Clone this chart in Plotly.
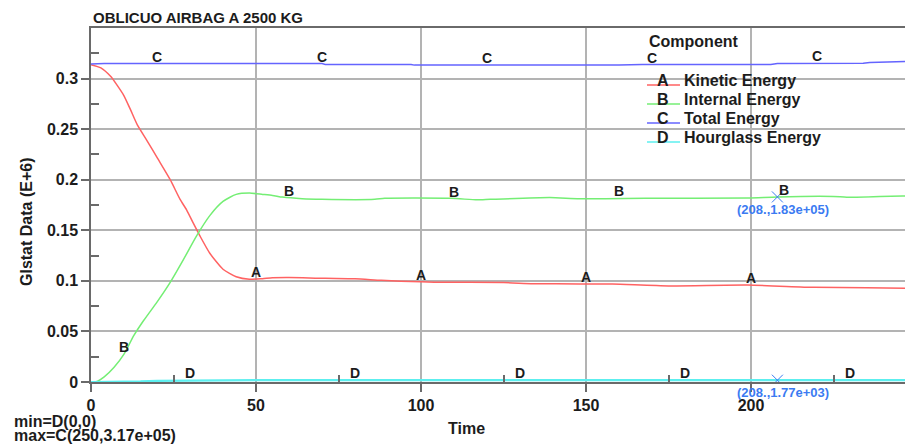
import numpy as np
import plotly.graph_objects as go

# ---- Glstat energies (E+6) versus time -------------------------------------
components = ["A", "B", "C", "D"]
names = ["Kinetic Energy", "Internal Energy", "Total Energy", "Hourglass Energy"]
colors = ["#ff6262", "#74ee74", "#6464ff", "#5cefef"]

t_kinetic = [0, 3, 6, 8, 10, 12, 14, 17, 20, 24, 27, 29, 31, 33, 36, 40, 44, 48,
             52, 55, 60, 68, 80, 88, 100, 104, 125, 134, 148, 158, 175, 199, 219,
             235, 250]
kinetic = [0.3138, 0.3106, 0.3020, 0.2930, 0.2830, 0.2690, 0.2545, 0.2385, 0.2220,
           0.2000, 0.1805, 0.1700, 0.1570, 0.1445, 0.1273, 0.1115, 0.1040, 0.1015,
           0.1022, 0.1030, 0.1032, 0.1027, 0.1020, 0.1005, 0.0990, 0.0987, 0.0983,
           0.0972, 0.0970, 0.0968, 0.0950, 0.0958, 0.0936, 0.0932, 0.0925]

t_internal = [0, 1, 2, 4, 7, 10, 13, 16, 20, 24, 28, 32, 36, 40, 44, 48, 52, 55,
              58, 64, 70, 86, 89, 109, 117, 121, 139, 148, 168, 199, 208, 225, 229,
              239, 246, 250]
internal = [0, 0, 0.0008, 0.0050, 0.0145, 0.0275, 0.0460, 0.0610, 0.0790, 0.0985,
            0.1210, 0.1445, 0.1645, 0.1785, 0.1855, 0.1868, 0.1855, 0.1845, 0.1828,
            0.1812, 0.1806, 0.1806, 0.1816, 0.1816, 0.1801, 0.1806, 0.1823, 0.1812,
            0.1816, 0.1820, 0.1830, 0.1834, 0.1827, 0.1834, 0.1840, 0.1840]

t_total = [0, 4, 70, 71, 97, 98, 160, 167, 206, 208, 234, 236, 250]
total = [0.3145, 0.3148, 0.3148, 0.3140, 0.3140, 0.3133, 0.3133, 0.3138, 0.3140,
         0.3150, 0.3152, 0.3160, 0.3170]

t_hourglass = [0, 8, 15, 20, 30, 50, 100, 150, 208, 250]
hourglass = [0, 0.0001, 0.0006, 0.0012, 0.0016, 0.0018, 0.0018, 0.0018, 0.00177, 0.0018]

series_t = [t_kinetic, t_internal, t_total, t_hourglass]
series_v = [kinetic, internal, total, hourglass]
series_shape = ["spline", "spline", "linear", "linear"]
series_width = [1.5, 1.5, 1.5, 2.2]

# curve letters are repeated along each line at these times
label_times = [[50, 100, 150, 200],
               [10, 60, 110, 160, 210],
               [20, 70, 120, 170, 220],
               [30, 80, 130, 180, 230]]

# probed points shown with their coordinates
probe_time = 208
probe_series = [1, 3]

x_ticks = [0, 50, 100, 150, 200]
x_minor = [25, 75, 125, 175, 225]
y_ticks = [0, 0.05, 0.1, 0.15, 0.2, 0.25, 0.3]
y_tick_text = ["0", "0.05", "0.1", "0.15", "0.2", "0.25", "0.3"]
y_minor = [0.025, 0.075, 0.125, 0.175, 0.225, 0.275, 0.325]

title_text = "OBLICUO AIRBAG A 2500 KG"
x_title = "Time"
y_title = "Glstat Data (E+6)"

# ---- page geometry (pixels) -------------------------------------------------
W, H = 905, 445
PL, PR, PT, PB = 91, 905, 28, 382
FONT = "Liberation Sans, Arial, sans-serif"
INK = "#1c1c1c"
AXIS = "#6a6a6a"
GRID = "#b3b3b3"
PROBE = "#3b7bf2"


def px(x):
    return (x - PL) / (PR - PL)


def py(y):
    return (PB - y) / (PB - PT)


fig = go.Figure()

for k in range(4):
    fig.add_trace(go.Scatter(
        x=series_t[k], y=series_v[k], mode="lines", name=names[k],
        line=dict(color=colors[k], width=series_width[k],
                  shape=series_shape[k], smoothing=0.6),
        showlegend=False, hoverinfo="skip"))

annotations = []
shapes = []

# letters along the curves
for k in range(4):
    for t in label_times[k]:
        v = float(np.interp(t, series_t[k], series_v[k]))
        annotations.append(dict(
            x=t, y=v, xref="x", yref="y", text=components[k], showarrow=False,
            yanchor="middle", yshift=7,
            font=dict(family=FONT, size=14, color=INK, weight="bold")))

# probed values
for k in probe_series:
    v = float(np.interp(probe_time, series_t[k], series_v[k]))
    fig.add_trace(go.Scatter(
        x=[probe_time], y=[v], mode="markers", showlegend=False,
        hoverinfo="skip",
        marker=dict(symbol="x-thin-open", size=11, color=PROBE,
                    line=dict(color=PROBE, width=1))))
    annotations.append(dict(
        x=probe_time, y=v, xref="x", yref="y",
        text=f"({probe_time}.,{v * 1e6:.2e})", showarrow=False,
        xanchor="center", yanchor="top", xshift=6, yshift=-3,
        font=dict(family=FONT, size=13, color=PROBE, weight="bold")))

# legend block
annotations.append(dict(
    x=px(647), y=py(42), xref="paper", yref="paper", text="Component",
    showarrow=False, xanchor="left", yanchor="middle",
    font=dict(family=FONT, size=16, color=INK, weight="bold")))
for k in range(4):
    yc = 80 + 19 * k
    shapes.append(dict(type="line", xref="paper", yref="paper",
                       x0=px(647), x1=px(680), y0=py(yc + 5), y1=py(yc + 5),
                       line=dict(color=colors[k], width=1.5)))
    annotations.append(dict(
        x=px(663), y=py(yc), xref="paper", yref="paper", text=components[k],
        showarrow=False, xanchor="center", yanchor="middle",
        font=dict(family=FONT, size=16, color=INK, weight="bold")))
    annotations.append(dict(
        x=px(682), y=py(yc), xref="paper", yref="paper", text=names[k],
        showarrow=False, xanchor="left", yanchor="middle",
        font=dict(family=FONT, size=16, color=INK, weight="bold")))

# extrema summary (ties go to the later component)
all_pts = [(series_v[k][i], k, series_t[k][i])
           for k in range(4) for i in range(len(series_t[k]))]
vmin, kmin, tmin = min(all_pts, key=lambda p: (p[0], -p[1]))
vmax, kmax, tmax = max(all_pts, key=lambda p: (p[0], p[1]))


def fmt(v):
    return "0" if v == 0 else f"{v * 1e6:.2e}"


annotations.append(dict(
    x=px(12), y=py(421), xref="paper", yref="paper",
    text=f"min={components[kmin]}({tmin:g},{fmt(vmin)})", showarrow=False,
    xanchor="left", yanchor="middle",
    font=dict(family=FONT, size=16, color=INK, weight="bold")))
annotations.append(dict(
    x=px(12), y=py(435.5), xref="paper", yref="paper",
    text=f"max={components[kmax]}({tmax:g},{fmt(vmax)})", showarrow=False,
    xanchor="left", yanchor="middle",
    font=dict(family=FONT, size=16, color=INK, weight="bold")))

# title and axis titles
annotations.append(dict(
    x=px(91), y=py(17), xref="paper", yref="paper", text=title_text,
    showarrow=False, xanchor="left", yanchor="middle",
    font=dict(family=FONT, size=15, color=INK, weight="bold")))
annotations.append(dict(
    x=px(466), y=py(428), xref="paper", yref="paper", text=x_title,
    showarrow=False, xanchor="center", yanchor="middle",
    font=dict(family=FONT, size=16, color=INK, weight="bold")))
annotations.append(dict(
    x=px(27), y=py(222), xref="paper", yref="paper", text=y_title,
    showarrow=False, xanchor="center", yanchor="middle", textangle=-90,
    font=dict(family=FONT, size=16, color=INK, weight="bold")))

x_max = (PR - PL) / 3.3

fig.update_layout(
    width=W, height=H,
    margin=dict(l=PL, r=W - PR, t=PT, b=H - PB, pad=0),
    paper_bgcolor="white", plot_bgcolor="white",
    annotations=annotations, shapes=shapes,
    xaxis=dict(
        range=[0, x_max], tickmode="array", tickvals=x_ticks,
        ticks="outside", ticklen=8, tickwidth=1.5, tickcolor=AXIS,
        showline=True, linecolor=AXIS, linewidth=1.5, mirror=True,
        showgrid=True, gridcolor=GRID, gridwidth=1.5, zeroline=False,
        tickfont=dict(family=FONT, size=16, color=INK, weight="bold"),
        minor=dict(tickmode="array", tickvals=x_minor, ticks="inside",
                   ticklen=7, tickwidth=1.5, tickcolor=AXIS, showgrid=False)),
    yaxis=dict(
        range=[0, 0.35], tickmode="array", tickvals=y_ticks,
        ticktext=y_tick_text,
        ticks="outside", ticklen=8, tickwidth=1.5, tickcolor=AXIS,
        showline=True, linecolor=AXIS, linewidth=1.5,
        showgrid=True, gridcolor=GRID, gridwidth=1.5, zeroline=False,
        tickfont=dict(family=FONT, size=16, color=INK, weight="bold"),
        minor=dict(tickmode="array", tickvals=y_minor, ticks="inside",
                   ticklen=8, tickwidth=1.5, tickcolor=AXIS, showgrid=False)),
)

fig.write_html("out.html")
